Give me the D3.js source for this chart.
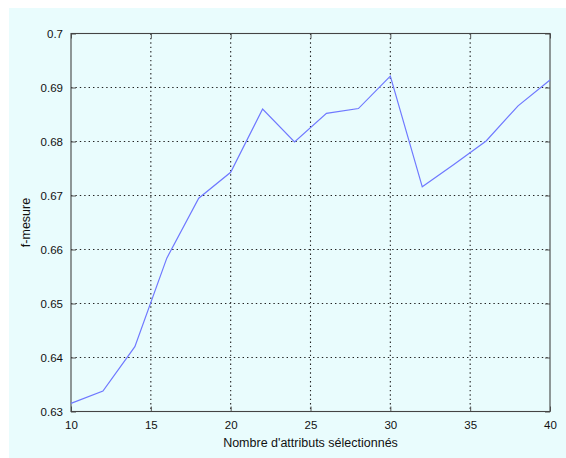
<!DOCTYPE html>
<html><head><meta charset="utf-8">
<script src="https://cdn.jsdelivr.net/npm/d3@7"></script>
<style>
html,body{margin:0;padding:0;background:#fff;}
text{font-family:"Liberation Sans",Arial,Helvetica,sans-serif;fill:#111;}
</style></head>
<body><svg id="c" width="566" height="458"></svg>
<script>
const nbAttributs = [10,12,14,16,18,20,22,24,26,28,30,32,34,36,38,40];
const fMesure = [0.6315,0.6338,0.6420,0.6584,0.6695,0.6743,0.6860,0.6799,0.6852,0.6861,0.6921,0.6716,0.6758,0.6801,0.6866,0.6914];
const xTicks = [10,15,20,25,30,35,40];
const yTicks = [0.63,0.64,0.65,0.66,0.67,0.68,0.69,0.7];
const xLabel = "Nombre d'attributs sélectionnés";
const yLabel = "f-mesure";

const svg = d3.select("#c");
svg.append("rect").attr("x",9).attr("y",8).attr("width",557).attr("height",450).attr("fill","#e9fcfd");

const L=71, R=550, T=33.5, B=411.5;
const x = d3.scaleLinear().domain([10,40]).range([L,R]);
const y = d3.scaleLinear().domain([0.63,0.7]).range([B,T]);

const g = svg.append("g");
// grid
g.selectAll(".gx").data(xTicks.slice(1,-1)).join("line")
 .attr("x1",d=>x(d)).attr("x2",d=>x(d)).attr("y1",T).attr("y2",B)
 .attr("stroke","#222").attr("stroke-width",1.1).attr("stroke-dasharray","1.4,3");
g.selectAll(".gy").data(yTicks.slice(1,-1)).join("line")
 .attr("x1",L).attr("x2",R).attr("y1",d=>y(d)).attr("y2",d=>y(d))
 .attr("stroke","#222").attr("stroke-width",1.1).attr("stroke-dasharray","1.4,3");

// axes with inward ticks (MATLAB style)
const tk = 5;
const axB = d3.axisBottom(x).tickValues(xTicks).tickSize(-tk).tickPadding(9).tickFormat(d3.format("d"));
const axT = d3.axisTop(x).tickValues(xTicks).tickSize(-tk).tickFormat("");
const axL = d3.axisLeft(y).tickValues(yTicks).tickSize(-tk).tickPadding(8).tickFormat(d=>String(+d.toFixed(2)));
const axR = d3.axisRight(y).tickValues(yTicks).tickSize(-tk).tickFormat("");
function style(s){
  s.selectAll(".domain").remove();
  s.selectAll("line").attr("stroke","#555");
  s.selectAll("text").style("font-size","11.5px").attr("fill","#111");
}
g.append("g").attr("transform",`translate(0,${B})`).call(axB).call(style);
g.append("g").attr("transform",`translate(0,${T})`).call(axT).call(style);
g.append("g").attr("transform",`translate(${L},0)`).call(axL).call(style);
g.append("g").attr("transform",`translate(${R},0)`).call(axR).call(style);

// frame
g.append("rect").attr("x",L).attr("y",T).attr("width",R-L).attr("height",B-T)
 .attr("fill","none").attr("stroke","#444").attr("stroke-width",1.1);

// line
const line = d3.line().x((d,i)=>x(nbAttributs[i])).y(d=>y(d));
g.append("path").datum(fMesure).attr("d",line).attr("fill","none")
 .attr("stroke","#6f78ff").attr("stroke-width",1.2);

// labels
svg.append("text").attr("x",(L+R)/2).attr("y",447).attr("text-anchor","middle")
 .style("font-size","12.5px").text(xLabel);
svg.append("text").attr("transform",`translate(30,${(T+B)/2}) rotate(-90)`)
 .attr("text-anchor","middle").style("font-size","12.5px").text(yLabel);
</script></body></html>
